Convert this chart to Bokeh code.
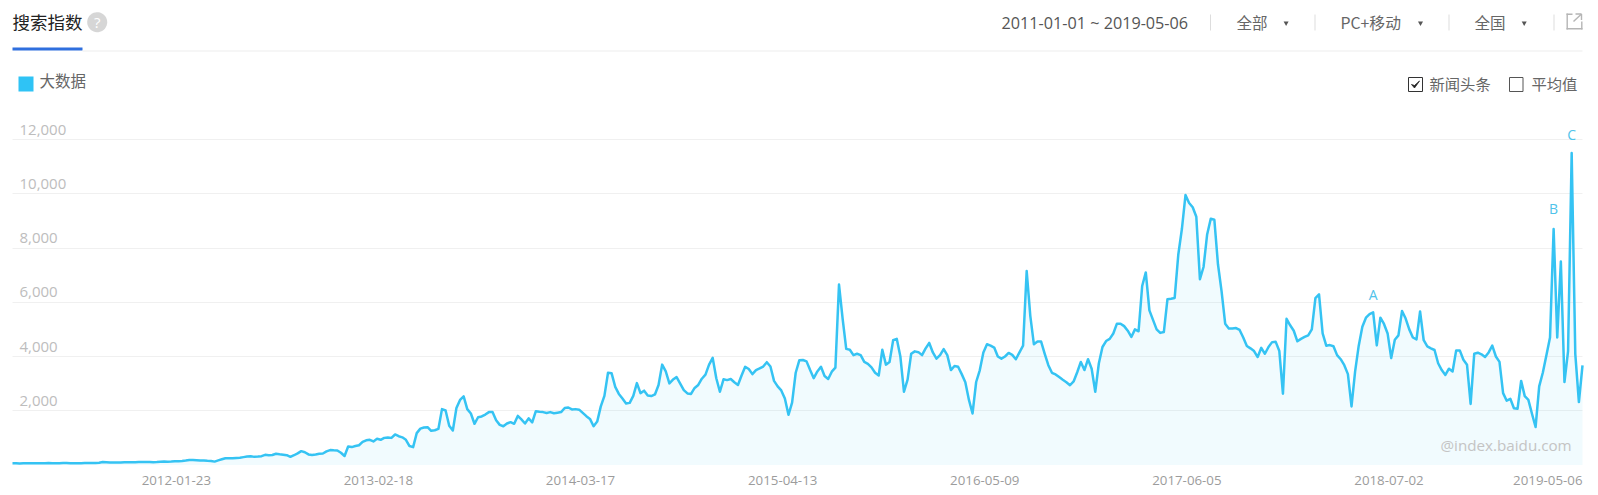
import numpy as np
import pandas as pd
from bokeh.core.properties import value
from bokeh.embed import file_html
from bokeh.models import (BoxAnnotation, ColumnDataSource, FixedTicker, Label, LabelSet,
                          PolyAnnotation, Range1d)
from bokeh.plotting import figure
from bokeh.resources import INLINE

SERIES_NAME = "大数据"
START_WEEK = "2011-01-03"
VALUES = [
    60, 60, 55, 60, 65, 60, 60, 65, 60, 65,
    70, 65, 60, 65, 70, 70, 65, 60, 60, 65,
    70, 75, 78, 78, 85, 110, 105, 95, 90, 95,
    95, 100, 100, 105, 105, 110, 110, 115, 110, 105,
    110, 120, 130, 120, 125, 135, 140, 150, 165, 185,
    180, 175, 170, 165, 155, 150, 125, 170, 210, 250,
    250, 245, 260, 270, 290, 310, 320, 300, 310, 325,
    375, 360, 370, 415, 395, 380, 360, 300, 360, 430,
    510, 470, 390, 370, 385, 415, 425, 500, 550, 540,
    535, 450, 330, 680, 660, 700, 730, 850, 910, 930,
    870, 965, 930, 1000, 1010, 1000, 1125, 1060, 1020, 930,
    700, 660, 1175, 1340, 1380, 1395, 1260, 1280, 1330, 2060,
    2010, 1450, 1270, 2100, 2400, 2530, 2060, 1900, 1520, 1760,
    1790, 1860, 1950, 1950, 1650, 1480, 1430, 1530, 1580, 1520,
    1810, 1680, 1530, 1720, 1570, 1985, 1960, 1950, 1920, 1950,
    1910, 1930, 1950, 2100, 2120, 2050, 2060, 2040, 1920, 1800,
    1700, 1430, 1600, 2160, 2550, 3400, 3380, 2880, 2620, 2450,
    2270, 2290, 2550, 3020, 2650, 2740, 2560, 2540, 2600, 2950,
    3700, 3450, 3010, 3150, 3240, 3000, 2760, 2640, 2620, 2840,
    2950, 3180, 3330, 3700, 3950, 3200, 2700, 3160, 3130, 3170,
    3050, 2950, 3300, 3620, 3540, 3350, 3500, 3560, 3630, 3790,
    3630, 3100, 2900, 2750, 2450, 1850, 2300, 3400, 3860, 3870,
    3820, 3500, 3200, 3450, 3620, 3280, 3170, 3440, 3590, 6650,
    5400, 4280, 4250, 4050, 4100, 4050, 3800, 3730, 3600, 3400,
    3300, 4250, 3700, 3800, 4600, 4650, 4000, 2700, 3150, 4100,
    4190, 4160, 4050, 4300, 4500, 4150, 3920, 4050, 4270, 4050,
    3500, 3650, 3620, 3350, 3050, 2400, 1900, 3060, 3490, 4150,
    4450, 4400, 4330, 4000, 3920, 4000, 4130, 4060, 3900, 4150,
    4400, 7150, 5500, 4450, 4550, 4550, 4100, 3680, 3400, 3340,
    3240, 3140, 3050, 2940, 3080, 3420, 3800, 3500, 3900, 3550,
    2700, 3750, 4350, 4570, 4650, 4850, 5210, 5210, 5120, 4950,
    4720, 5000, 4930, 6600, 7100, 5700, 5350, 5000, 4870, 4900,
    6110, 6130, 6160, 7750, 8700, 9950, 9660, 9500, 9150, 6850,
    7300, 8500, 9080, 9040, 7400, 6400, 5210, 5030, 5030, 5050,
    4980, 4700, 4390, 4300, 4200, 3980, 4320, 4100, 4350, 4530,
    4540, 4200, 2630, 5390, 5150, 4950, 4560, 4650, 4720, 4780,
    5000, 6150, 6290, 4850, 4400, 4420, 4380, 4050, 3900, 3680,
    3350, 2160, 3450, 4400, 5100, 5430, 5560, 5630, 4410, 5430,
    5200, 4850, 3940, 4620, 4780, 5680, 5400, 5000, 4700, 4630,
    5660, 4600, 4370, 4300, 4240, 3750, 3500, 3320, 3550, 3450,
    4225, 4225, 3880, 3700, 2250, 4100, 4140, 4080, 3980, 4150,
    4400, 4000, 3800, 2650, 2370, 2440, 2090, 2070, 3100, 2540,
    2400, 1890, 1400, 2900, 3400, 4050, 4700, 8700, 4700, 7500,
    3060, 4200, 11500, 4100, 2320, 3670,
]
X_TICK_LABELS = ["2012-01-23", "2013-02-18", "2014-03-17", "2015-04-13",
                 "2016-05-09", "2017-06-05", "2018-07-02", "2019-05-06"]
Y_TICKS = [2000, 4000, 6000, 8000, 10000, 12000]
NEWS_LETTERS = ["A", "B", "C"]
NEWS_DATES = ["2018-03-26", "2019-03-11", "2019-04-15"]

assert len(VALUES) == 436, len(VALUES)

LINE = "#35c3f3"
SANS = "Open Sans"
CJK = "Noto Sans CJK SC"

# The frame fills the canvas so that the header fits in it.
W, H = 1590, 494
PLOT_L, PLOT_R, PLOT_T, PLOT_B = 12, 1582, 139, 464.5

dates = pd.date_range(START_WEEK, periods=len(VALUES), freq="7D")
src = ColumnDataSource(dict(date=dates, v=VALUES, base=[0] * len(VALUES)))

t0, t1 = dates[0].timestamp() * 1000, dates[-1].timestamp() * 1000
ms_per_px = (t1 - t0) / (PLOT_R - PLOT_L)
units_per_px = 12000 / (PLOT_B - PLOT_T)
x_range = Range1d(t0 - PLOT_L * ms_per_px, t1 + (W - PLOT_R) * ms_per_px)
y_range = Range1d(-(H - PLOT_B) * units_per_px, 12000 + PLOT_T * units_per_px)

p = figure(width=W, height=H, x_axis_type="datetime", output_backend="svg",
           toolbar_location=None, x_range=x_range, y_range=y_range,
           min_border_left=0, min_border_right=0, min_border_top=0, min_border_bottom=0)
p.outline_line_color = None
p.background_fill_color = "white"
p.xaxis.visible = False
p.yaxis.visible = False
p.xgrid.visible = False
p.ygrid.ticker = FixedTicker(ticks=Y_TICKS)
p.ygrid.cross_bounds = (t0, t1)
p.ygrid.grid_line_color = "#f0f0f0"
p.ygrid.grid_line_width = 1

p.varea(x="date", y1="base", y2="v", source=src, fill_color=LINE, fill_alpha=0.07)
p.line(x="date", y="v", source=src, line_color=LINE, line_width=2.5, line_join="round")


def sx(x):
    return x


def sy(y):
    return H - y


def label(text, x, y, size, color, font=CJK, align="left"):
    p.add_layout(Label(x=sx(x), y=sy(y), x_units="screen", y_units="screen", text=text,
                       text_font=font, text_font_size=f"{size}px", text_color=color,
                       text_align=align, text_baseline="middle"))


def box(l, r, t, b, fill=None, line=None):
    p.add_layout(BoxAnnotation(left=sx(l), right=sx(r), top=sy(t), bottom=sy(b),
                               left_units="screen", right_units="screen",
                               top_units="screen", bottom_units="screen",
                               fill_color=fill, fill_alpha=1 if fill else 0,
                               line_color=line, line_alpha=1 if line else 0, line_width=1))


def poly(xs, ys, fill=None, line=None, width=1.0):
    p.add_layout(PolyAnnotation(xs=[sx(v) for v in xs], ys=[sy(v) for v in ys],
                                xs_units="screen", ys_units="screen",
                                fill_color=fill, fill_alpha=1 if fill else 0,
                                line_color=line, line_alpha=1 if line else 0, line_width=width))


# tick labels driven by the scales
tick_src = ColumnDataSource(dict(x=pd.to_datetime(X_TICK_LABELS), t=X_TICK_LABELS))
p.add_layout(LabelSet(x="x", y=sy(480), y_units="screen", text="t", source=tick_src,
                      text_font=value(SANS), text_font_size="13.3px", text_color="#9c9c9c",
                      text_align="right", text_baseline="middle"))
y_src = ColumnDataSource(dict(y=Y_TICKS, t=[f"{v:,}" for v in Y_TICKS]))
p.add_layout(LabelSet(x=sx(19), x_units="screen", y="y", y_offset=10, text="t", source=y_src,
                      text_font=value(SANS), text_font_size="15px", text_color="#bdbdbd",
                      text_align="left", text_baseline="middle"))

# news letters
news_x = pd.to_datetime(NEWS_DATES)
news_y = [VALUES[list(dates).index(d)] for d in news_x]
news_src = ColumnDataSource(dict(x=news_x, y=news_y, t=NEWS_LETTERS, off=[18, 21, 19]))
p.add_layout(LabelSet(x="x", y="y", y_offset="off", text="t", source=news_src,
                      text_font=value(SANS), text_font_size="14px", text_color="#4fc3ea",
                      text_align="center", text_baseline="middle"))

label("@index.baidu.com", 1440, 444, 15.2, "#c4c4c4", SANS)

# header
label("搜索指数", 12, 21, 17.5, "#222222")
circle_t = np.linspace(0, 2 * np.pi, 40)
poly(96.7 + 10 * np.cos(circle_t), 21.7 + 10 * np.sin(circle_t), fill="#d6d6d6")
label("?", 96.7, 21.7, 15, "#ffffff", SANS, "center")
box(12, 82, 47, 50, fill="#2f6fde")
box(82, 1582, 50, 51, fill="#eeeeee")

label("2011-01-01 ~ 2019-05-06", 1001, 22, 16.2, "#555555", SANS)
for x in (1209.5, 1314, 1448, 1553):
    box(x, x + 1, 14, 30, fill="#dddddd")
label("全部", 1236, 21.5, 15.5, "#666666")
label("PC+移动", 1340, 21.5, 15.8, "#666666")
label("全国", 1474, 21.5, 15.5, "#666666")
for x in (1285.6, 1420, 1523.7):
    poly([x - 2.5, x + 2.5, x], [21, 21, 25.5], fill="#555555")
# export icon: open square with an arrow
ICON = "#b5b5b5"
box(1566, 1567.4, 13, 29, fill=ICON)
box(1566, 1572, 13, 14.4, fill=ICON)
box(1566, 1582, 27.6, 29, fill=ICON)
box(1580.6, 1582, 21, 29, fill=ICON)
poly([1573, 1581], [21, 13.5], line=ICON, width=1.4)
poly([1575, 1581], [13.5, 13.5], line=ICON, width=1.4)
poly([1581, 1581], [13.5, 19.5], line=ICON, width=1.4)

# legend and switches
box(18, 33, 76, 91, fill="#2fc3f5")
label(SERIES_NAME, 39, 79.5, 15.5, "#666666")
box(1408, 1422, 77, 91, line="#333333")
poly([1411, 1414, 1419, 1414], [84, 87.5, 80.5, 85], fill="#222222", line="#222222", width=0.8)
label("新闻头条", 1429, 82.5, 15.3, "#666666")
box(1509, 1522.5, 77, 91, line="#555555")
label("平均值", 1531, 82.5, 15.3, "#666666")

open("out.html", "w").write(file_html(p, INLINE))
